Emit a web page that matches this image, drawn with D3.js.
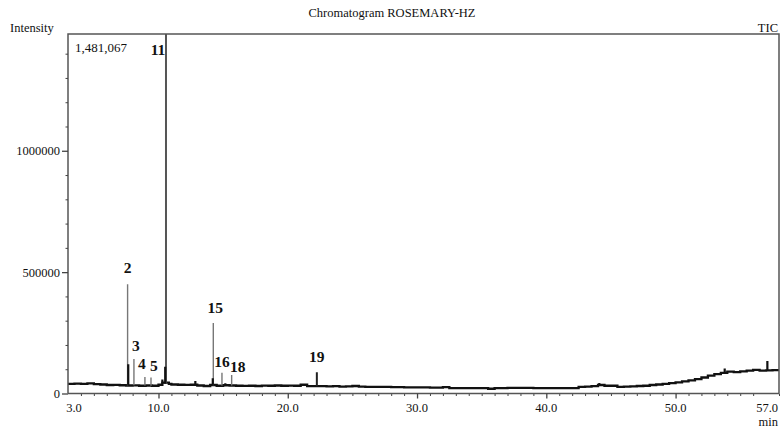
<!DOCTYPE html>
<html><head><meta charset="utf-8">
<script src="https://cdn.jsdelivr.net/npm/d3@7"></script>
<style>body{margin:0;background:#fff}svg{display:block}text{font-family:"Liberation Serif","DejaVu Serif",serif}</style>
</head><body><div id="c"></div>
<script>
// ---------- DATA ----------
const title = "Chromatogram ROSEMARY-HZ";
const maxIntensity = 1481067;
const xTickValues = [3, 10, 20, 30, 40, 50, 57];
const xTickLabels = ["3.0", "10.0", "20.0", "30.0", "40.0", "50.0", "57.0"];
const yTickValues = [0, 500000, 1000000];
const yTickLabels = ["0", "500000", "1000000"];

// baseline of the TIC trace (time in min, intensity)
const baseTimes = [3.0,3.5,4.0,4.5,5.0,5.5,6.0,6.5,7.0,7.5,8.0,8.5,9.0,9.5,10.0,10.3,10.8,11.0,11.5,12.0,12.5,13.0,13.5,14.0,14.5,15.0,15.5,16.0,16.5,17.0,17.5,18.0,18.5,19.0,19.5,20.0,20.5,21.0,21.5,22.0,22.5,23.0,23.5,24.0,24.5,25.0,25.5,26.0,27.0,28.0,29.0,30.0,31.0,32.0,32.5,33.0,34.0,35.0,35.5,36.0,37.0,38.0,39.0,40.0,41.0,42.0,42.5,43.0,43.5,44.0,44.5,45.0,45.5,46.0,46.5,47.0,47.5,48.0,48.5,49.0,49.5,50.0,50.5,51.0,51.5,52.0,52.5,53.0,53.5,54.0,54.5,55.0,55.5,56.0,56.5,57.0,57.5,58.0];
const baseValues = [40000,41000,40000,41500,39000,37000,35000,35500,34000,33000,33500,32000,33000,32000,36000,45000,40000,37000,36000,35500,36000,33000,31000,35000,32000,34000,33000,32000,31500,32000,31000,32500,32000,33000,32000,32500,32000,36000,30000,30000,30500,29500,30000,28500,29000,31000,28000,27500,27000,26000,25500,25000,24500,26000,22000,22500,22500,22000,19500,22000,23000,23000,22000,22500,22000,22500,27000,28000,30000,35000,32000,32000,27000,28000,29000,31000,32000,35000,37000,40000,43000,46000,50000,54000,59000,66000,74000,80000,85000,90000,88000,91000,94000,97000,94000,95000,96000,93000];

// labelled peaks
const peakLabels  = ["2", "3", "4", "5", "11", "15", "16", "18", "19"];
const peakTimes   = [7.61, 8.10, 8.95, 9.42, 10.58, 14.24, 14.91, 15.66, 22.25];
const peakHeights = [450000, 142000, 68000, 66000, 1481067, 290000, 85000, 76000, 88000];
const peakBases   = [33000, 33500, 33000, 32000, 40000, 34000, 33000, 33000, 30000];

// small unlabelled / co-eluting spikes (dark)
const minorTimes   = [7.66, 10.30, 10.52, 12.85, 14.20, 15.17, 44.10, 53.80, 57.10];
const minorHeights = [120000, 58000, 110000, 52000, 62500, 42000, 43000, 103000, 134000];
const minorBases   = [33000, 40000, 40000, 35000, 34000, 33000, 33000, 86000, 95000];

// ---------- LAYOUT ----------
const W = 781, H = 429;
const L = 68, R = 779, T = 34, B = 393.5;
const svg = d3.select("#c").append("svg").attr("width", W).attr("height", H);

const x = d3.scaleLinear().domain([3, 58]).range([L, R]);
const y = d3.scaleLinear().domain([0, maxIntensity]).range([B, T]);

svg.append("clipPath").attr("id", "clip").append("rect")
  .attr("x", L).attr("y", T).attr("width", R - L).attr("height", B - T);

const plot = svg.append("g").attr("clip-path", "url(#clip)");

// baseline trace
const base = baseTimes.map((t, i) => [t, baseValues[i]]);
plot.append("path").datum(base)
  .attr("d", d3.line().curve(d3.curveStepAfter).x(d => x(d[0])).y(d => y(d[1])))
  .attr("fill", "none").attr("stroke", "#111").attr("stroke-width", 2.3);

// labelled peaks
const darkLabels = ["19"];
const peaks = peakLabels.map((l, i) => ({l, t: peakTimes[i], h: peakHeights[i], b: peakBases[i]}));
plot.selectAll("line.pk").data(peaks).enter().append("line").attr("class", "pk")
  .attr("x1", d => x(d.t)).attr("x2", d => x(d.t))
  .attr("y1", d => y(d.b)).attr("y2", d => y(d.h))
  .attr("stroke", d => d.l === "11" ? "#555" : darkLabels.includes(d.l) ? "#222" : "#777")
  .attr("stroke-width", d => d.l === "11" ? 2 : darkLabels.includes(d.l) ? 2 : 1.4);

// minor spikes
const minors = minorTimes.map((t, i) => ({t, h: minorHeights[i], b: minorBases[i]}));
plot.selectAll("line.mn").data(minors).enter().append("line").attr("class", "mn")
  .attr("x1", d => x(d.t)).attr("x2", d => x(d.t))
  .attr("y1", d => y(d.b)).attr("y2", d => y(d.h))
  .attr("stroke", "#111").attr("stroke-width", 2.2);

// frame
svg.append("path")
  .attr("d", `M${L},${B}V${T}H${R}V${B}`)
  .attr("fill", "none").attr("stroke", "#555").attr("stroke-width", 1.5);

// x axis
const xMinor = d3.range(4, 59).filter(v => !xTickValues.includes(v));
svg.append("g").attr("transform", `translate(0,${B})`)
  .call(d3.axisBottom(x).tickValues(xMinor).tickSize(2.5).tickFormat(""))
  .call(g => g.select(".domain").remove())
  .call(g => g.selectAll("line").attr("stroke", "#444"));
const xAx = svg.append("g").attr("transform", `translate(0,${B})`)
  .call(d3.axisBottom(x).tickValues(xTickValues.filter(v => v !== 3 && v !== 57)).tickSize(5).tickFormat(""));
xAx.select(".domain").attr("d", `M${L},0H${R}`).attr("stroke", "#555").attr("stroke-width", 1.5);
xAx.selectAll("line").attr("stroke", "#444").attr("stroke-width", 1.3);
svg.append("g").selectAll("text").data(xTickValues).enter().append("text")
  .attr("x", (d) => x(d) + (d === 3 ? 6 : d === 57 ? 1 : 0))
  .attr("y", 412).attr("text-anchor", "middle").attr("font-size", 12.5).attr("fill", "#111")
  .text((d, i) => xTickLabels[i]);

// y axis
const yMinor = d3.range(100000, 1500000, 100000).filter(v => !yTickValues.includes(v));
svg.append("g").attr("transform", `translate(${L},0)`)
  .call(d3.axisLeft(y).tickValues(yMinor).tickSize(2.5).tickFormat(""))
  .call(g => g.select(".domain").remove())
  .call(g => g.selectAll("line").attr("stroke", "#444"));
const yAx = svg.append("g").attr("transform", `translate(${L},0)`)
  .call(d3.axisLeft(y).tickValues(yTickValues).tickSize(6).tickPadding(2)
    .tickFormat((d, i) => yTickLabels[i]));
yAx.select(".domain").remove();
yAx.selectAll("line").attr("stroke", "#444").attr("stroke-width", 1.3);
yAx.selectAll("text").attr("font-family", "Liberation Serif").attr("font-size", 12.5).attr("fill", "#111");

// texts
svg.append("text").attr("x", 392).attr("y", 17).attr("text-anchor", "middle")
  .attr("font-size", 12.5).attr("fill", "#111").text(title);
svg.append("text").attr("x", 10).attr("y", 32).attr("font-size", 12.5).attr("fill", "#111").text("Intensity");
svg.append("text").attr("x", 778).attr("y", 32).attr("text-anchor", "end").attr("font-size", 12.5).attr("fill", "#111").text("TIC");
svg.append("text").attr("x", 778).attr("y", 426).attr("text-anchor", "end").attr("font-size", 12.5).attr("fill", "#111").text("min");
svg.append("text").attr("x", 75).attr("y", 52).attr("font-size", 13).attr("fill", "#111")
  .text(d3.format(",")(maxIntensity));

// peak labels
const labelOffset = {"2":[0,-11], "3":[2,-8], "4":[-3,-8], "5":[3,-6], "11":[-8,0], "15":[2,-10], "16":[0,-6], "18":[6,-3], "19":[0,-10]};
svg.append("g").selectAll("text").data(peaks).enter().append("text")
  .attr("x", d => x(d.t) + labelOffset[d.l][0])
  .attr("y", d => d.l === "11" ? 55 : y(d.h) + labelOffset[d.l][1])
  .attr("text-anchor", "middle").attr("font-size", 15.5).attr("font-weight", "bold").attr("fill", "#111")
  .text(d => d.l);
</script></body></html>
